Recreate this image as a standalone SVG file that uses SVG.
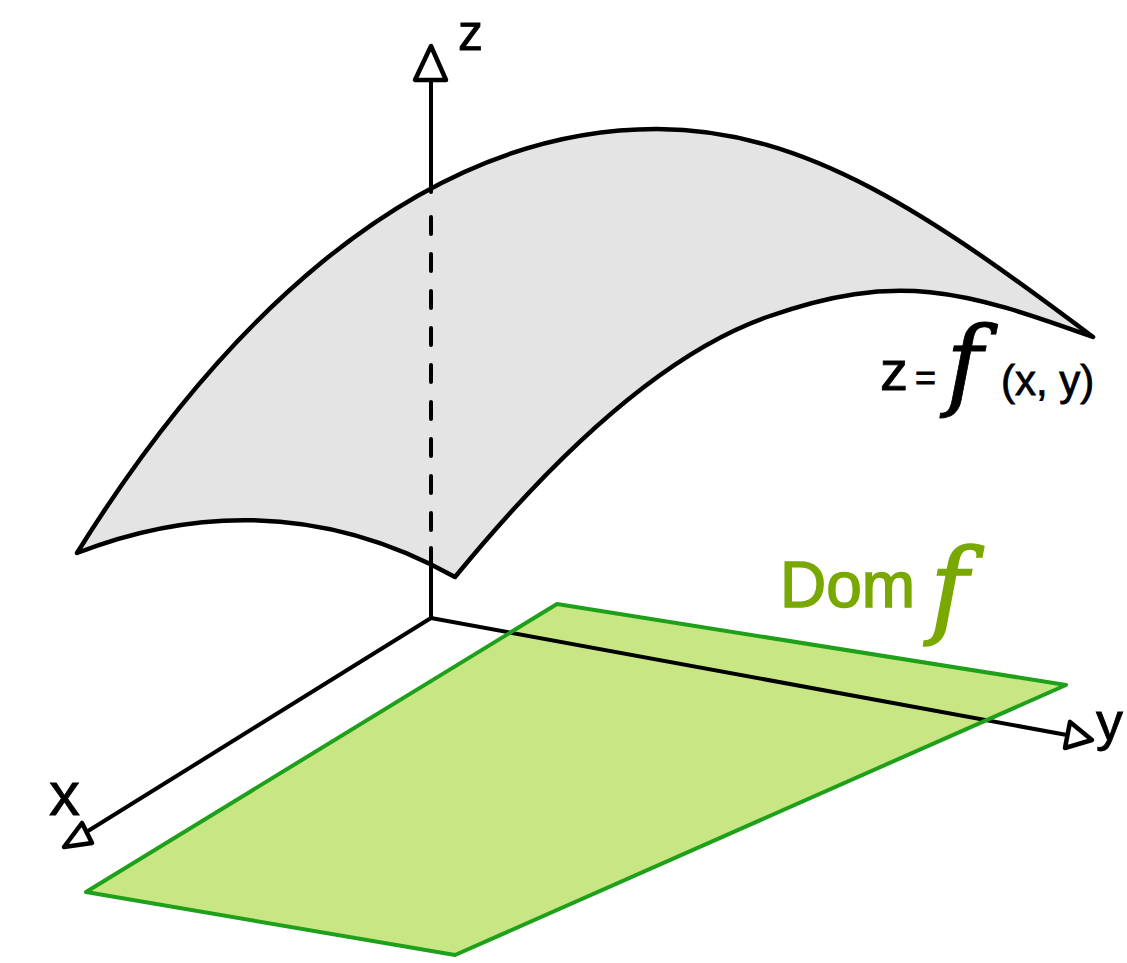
<svg xmlns="http://www.w3.org/2000/svg" width="1127" height="963" viewBox="0 0 1127 963">
<style>
.ln{fill:none;stroke:#000;stroke-width:4;stroke-linecap:round;stroke-linejoin:round}
.head{fill:#fff;stroke:#000;stroke-width:4.5;stroke-linejoin:round}
.lbl{font-family:"Liberation Sans",Arial,sans-serif;fill:#000;stroke:#000;stroke-width:0.8}
.dom{font-family:"Liberation Sans",Arial,sans-serif;fill:#79a800;stroke:#79a800;stroke-width:1.5}
.scr{font-family:"DejaVu Serif","Liberation Serif",serif;font-style:italic}
</style>
<rect width="1127" height="963" fill="#fff"/>
<g id="surface">
<path d="M77,553 C209,341 407,129 657,129 C807,129 933,217 1093,337 C963,290.2 897,271.1 767,317 C657,355.8 545.2,467 455,577 C315,498.6 182,512 77,553 Z" fill="#e4e4e4" stroke="#000" stroke-width="4.5" stroke-linejoin="round"/>
</g>
<g id="domain-fill">
<polygon points="557,604 1066,685 455,955 86,892" fill="#c9e684" stroke="none"/>
</g>
<g id="connectors">
<line id="z-axis" class="ln" x1="431" y1="618" x2="431" y2="548"/>
<line id="z-axis-dashed" class="ln" x1="431" y1="217" x2="431" y2="547" stroke-dasharray="17 20" stroke-linecap="butt"/>
<line id="z-axis-top" class="ln" x1="431" y1="192" x2="431" y2="80"/>
<polygon class="head" points="431,46 415,80 446,80"/>
<line id="y-axis" class="ln" x1="431" y1="618" x2="1067" y2="735"/>
<polygon class="head" points="1092,740 1070,722 1065,748"/>
<line id="x-axis" class="ln" x1="431" y1="618" x2="88" y2="831"/>
<polygon class="head" points="64,847 82,823 92,843"/>
</g>
<g id="domain">
<polygon points="557,604 1066,685 455,955 86,892" fill="none" stroke="#1fa01a" stroke-width="4" stroke-linejoin="round"/>
<text class="dom" x="780" y="607" font-size="64">Dom</text>
<text class="dom" x="930" y="624" font-size="104" style="font-family:'DejaVu Serif','Liberation Serif',serif;font-style:italic" stroke-width="1">f</text>
</g>
<g id="labels">
<text class="lbl" x="458" y="50" font-size="50">z</text>
<text class="lbl" x="49" y="815" font-size="62">x</text>
<text class="lbl" x="1096" y="740" font-size="54">y</text>
<text class="lbl" x="880" y="390" font-size="56">z</text>
<text class="lbl" x="915" y="390" font-size="36">=</text>
<text class="lbl" x="946" y="397" font-size="100" style="font-family:'DejaVu Serif','Liberation Serif',serif;font-style:italic" stroke-width="0.5">f</text>
<text class="lbl" x="1001" y="395" font-size="42">(x, y)</text>
</g>
</svg>
